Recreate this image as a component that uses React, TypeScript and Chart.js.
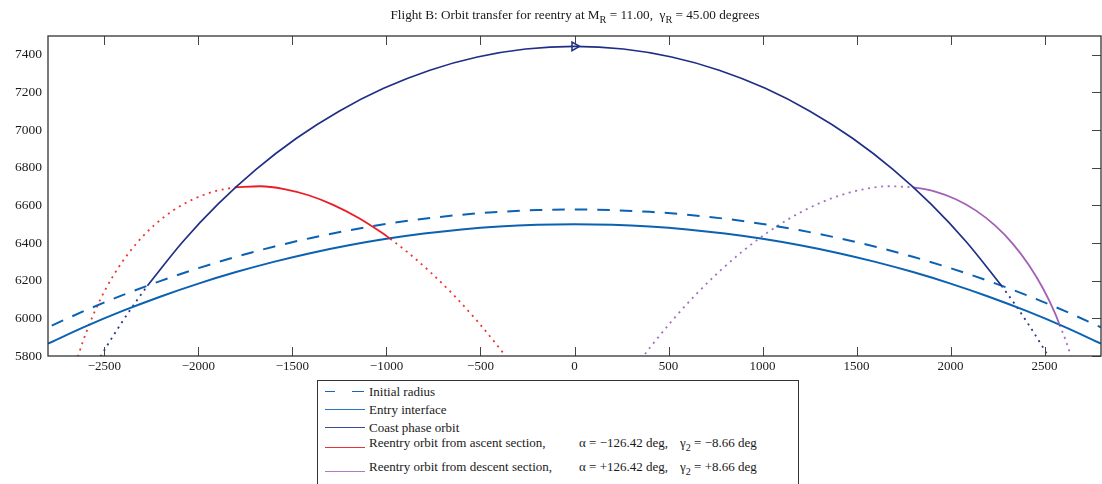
import React, { useEffect, useRef } from 'react';
import { Chart, registerables } from 'chart.js';

Chart.register(...registerables);

// ---------- data (km) ----------
const xTickValues = [-2500, -2000, -1500, -1000, -500, 0, 500, 1000, 1500, 2000, 2500];
const yTickValues = [5800, 6000, 6200, 6400, 6600, 6800, 7000, 7200, 7400];
const xLimits = [-2800, 2800];
const yLimits = [5800, 7500];

const initialRadius = [
  [-2780, 5961.7], [-2600, 6042.4], [-2400, 6124.6], [-2200, 6199.2], [-2000, 6266.6], [-1800, 6326.9],
  [-1600, 6380.5], [-1400, 6427.3], [-1200, 6467.6], [-1000, 6501.5], [-800, 6529.2], [-600, 6550.6],
  [-400, 6565.8], [-200, 6575.0], [0, 6578.0], [200, 6575.0], [400, 6565.8], [600, 6550.6], [800, 6529.2],
  [1000, 6501.5], [1200, 6467.6], [1400, 6427.3], [1600, 6380.5], [1800, 6326.9], [2000, 6266.6],
  [2200, 6199.2], [2400, 6124.6], [2600, 6042.4], [2800, 5952.3],
];

const entryInterface = [
  [-2800, 5866.0], [-2600, 5957.4], [-2400, 6040.7], [-2200, 6116.4], [-2000, 6184.7], [-1800, 6245.8],
  [-1600, 6300.0], [-1400, 6347.4], [-1200, 6388.3], [-1000, 6422.6], [-800, 6450.6], [-600, 6472.3],
  [-400, 6487.7], [-200, 6496.9], [0, 6500.0], [200, 6496.9], [400, 6487.7], [600, 6472.3], [800, 6450.6],
  [1000, 6422.6], [1200, 6388.3], [1400, 6347.4], [1600, 6300.0], [1800, 6245.8], [2000, 6184.7],
  [2200, 6116.4], [2400, 6040.7], [2600, 5957.4], [2800, 5866.0],
];

const coastOrbit = [
  [-2271.2, 6173.2], [-2082.1, 6408.3], [-1894.8, 6607.9], [-1693.3, 6791.4], [-1478.6, 6956.5],
  [-1252.0, 7100.6], [-1015.0, 7221.9], [-769.2, 7318.3], [-516.6, 7388.3], [-259.5, 7430.8], [0, 7445.0],
  [259.5, 7430.8], [516.6, 7388.3], [769.2, 7318.3], [1015.0, 7221.9], [1252.0, 7100.6], [1478.6, 6956.5],
  [1693.3, 6791.4], [1894.8, 6607.9], [2082.1, 6408.3], [2271.2, 6173.2],
];
const coastDottedLeft = [
  [-2520.6, 5796.9], [-2485.4, 5855.3], [-2412.4, 5970.9], [-2335.5, 6084.2], [-2271.2, 6173.2],
];
const coastDottedRight = [
  [2271.2, 6173.2], [2335.5, 6084.2], [2412.4, 5970.9], [2485.4, 5855.3], [2520.6, 5796.9],
];
const coastMarker = [[0, 7445.0]];

const ascentSolid = [
  [-1802.0, 6696.4], [-1670.9, 6701.7], [-1543.8, 6687.0], [-1414.3, 6654.0], [-1283.5, 6603.1],
  [-1152.4, 6535.7], [-1022.0, 6452.8], [-979.9, 6422.7],
];
const ascentDottedLeft = [
  [-2641.3, 5795.7], [-2615.4, 5874.3], [-2557.0, 6024.0], [-2489.7, 6162.3], [-2413.6, 6287.6],
  [-2328.9, 6398.7], [-2236.0, 6493.9], [-2135.5, 6572.3], [-2027.9, 6632.8], [-1914.0, 6674.8],
  [-1802.0, 6696.4],
];
const ascentDottedRight = [
  [-979.9, 6422.7], [-893.2, 6355.6], [-766.9, 6245.7], [-643.7, 6124.6], [-524.4, 5993.7],
  [-409.4, 5854.7], [-353.7, 5782.5],
];

const descentSolid = [
  [1802.0, 6696.4], [1914.0, 6674.8], [2027.9, 6632.8], [2135.5, 6572.3], [2236.0, 6493.9],
  [2328.9, 6398.7], [2413.6, 6287.6], [2489.7, 6162.3], [2557.0, 6024.0], [2579.7, 5965.9],
];
const descentDottedLeft = [
  [353.7, 5782.5], [409.4, 5854.7], [524.4, 5993.7], [643.7, 6124.6], [766.9, 6245.7], [893.2, 6355.6],
  [1022.0, 6452.8], [1152.4, 6535.7], [1283.5, 6603.1], [1414.3, 6654.0], [1543.8, 6687.0],
  [1670.9, 6701.7], [1802.0, 6696.4],
];
const descentDottedRight = [
  [2579.7, 5965.9], [2615.4, 5874.3], [2641.3, 5795.7],
];

// ---------- styles ----------
const BLUE = '#0b61b2';
const NAVY = '#1f2e86';
const RED = '#ec1c24';
const PURPLE = '#a260b6';
const RED_DOT = '#ee3434';
const PURPLE_DOT = '#a56fc0';
const NAVY_DOT = '#27388f';
const FONT = '"Liberation Serif", "Times New Roman", serif';
const DOTS = [2, 4.6];

const toPts = (a: number[][]) => a.map(([x, y]) => ({ x, y }));

const lineSet = (data: number[][], color: string, width: number, dash: number[] = []) => ({
  data: toPts(data),
  borderColor: color,
  backgroundColor: color,
  borderWidth: width,
  borderDash: dash,
  borderCapStyle: 'butt',
  pointRadius: 0,
  pointHoverRadius: 0,
  cubicInterpolationMode: 'monotone',
  fill: false,
  clip: 0,
});

const fmt = (v: number) => (v < 0 ? '\u2212' + Math.abs(v) : String(v));

const framePlugin = {
  id: 'frameTicks',
  afterDatasetsDraw(chart: any) {
    const { ctx, chartArea: a, scales } = chart;
    ctx.save();
    ctx.strokeStyle = '#444';
    ctx.lineWidth = 1;
    ctx.beginPath();
    for (const v of xTickValues) {
      const px = Math.round(scales.x.getPixelForValue(v)) + 0.5;
      ctx.moveTo(px, a.bottom);
      ctx.lineTo(px, a.bottom - 9);
      ctx.moveTo(px, a.top);
      ctx.lineTo(px, a.top + 9);
    }
    for (const v of yTickValues) {
      const py = Math.round(scales.y.getPixelForValue(v)) + 0.5;
      ctx.moveTo(a.right, py);
      ctx.lineTo(a.right - 9, py);
    }
    ctx.stroke();
    ctx.strokeStyle = '#333';
    ctx.lineWidth = 1.3;
    ctx.strokeRect(a.left, a.top, a.right - a.left, a.bottom - a.top);
    ctx.restore();
  },
};

const Sub = ({ children }: { children: React.ReactNode }) => (
  <span style={{ fontSize: '0.78em', position: 'relative', top: '0.38em' }}>{children}</span>
);

const textStyle = (left: number, top: number, size = 13): React.CSSProperties => ({
  position: 'absolute',
  left,
  top,
  fontSize: size,
  lineHeight: '16px',
  whiteSpace: 'pre',
  fontFamily: FONT,
  color: '#1a1a1a',
});

export default function App() {
  const ref = useRef<HTMLCanvasElement | null>(null);

  useEffect(() => {
    if (!ref.current) return;
    const chart = new Chart(ref.current, {
      type: 'line',
      data: {
        datasets: [
          {
            ...lineSet(coastMarker, NAVY, 1.5),
            pointRadius: 5,
            pointStyle: 'triangle',
            rotation: 90,
            pointBorderColor: NAVY,
            pointBackgroundColor: 'rgba(0,0,0,0)',
            pointBorderWidth: 1.5,
            showLine: false,
          },
          lineSet(coastOrbit, NAVY, 1.7),
          lineSet(ascentSolid, RED, 1.8),
          lineSet(descentSolid, PURPLE, 1.8),
          lineSet(entryInterface, BLUE, 2),
          lineSet(initialRadius, BLUE, 2, [12.5, 10]),
          lineSet(coastDottedLeft, NAVY_DOT, 1.8, DOTS),
          lineSet(coastDottedRight, NAVY_DOT, 1.8, DOTS),
          lineSet(ascentDottedLeft, RED_DOT, 1.8, DOTS),
          lineSet(ascentDottedRight, RED_DOT, 1.8, DOTS),
          lineSet(descentDottedLeft, PURPLE_DOT, 1.8, DOTS),
          lineSet(descentDottedRight, PURPLE_DOT, 1.8, DOTS),
        ] as any,
      },
      options: {
        responsive: false,
        animation: false,
        events: [],
        layout: { autoPadding: false, padding: { left: 0, right: 1, top: 36, bottom: 0 } },
        plugins: { legend: { display: false }, tooltip: { enabled: false }, title: { display: false } },
        scales: {
          x: {
            type: 'linear',
            min: xLimits[0],
            max: xLimits[1],
            grid: { display: false, drawTicks: false },
            border: { display: false },
            afterBuildTicks: (axis: any) => {
              axis.ticks = xTickValues.map((v) => ({ value: v }));
            },
            afterFit: (axis: any) => {
              axis.height = 128;
            },
            ticks: {
              autoSkip: false,
              maxRotation: 0,
              padding: 3,
              color: '#1a1a1a',
              font: { family: FONT, size: 13 },
              callback: (v: any) => fmt(Number(v)),
            },
          },
          y: {
            type: 'linear',
            min: yLimits[0],
            max: yLimits[1],
            grid: { display: false, drawTicks: false },
            border: { display: false },
            afterBuildTicks: (axis: any) => {
              axis.ticks = yTickValues.map((v) => ({ value: v }));
            },
            afterFit: (axis: any) => {
              axis.width = 48;
            },
            ticks: {
              autoSkip: false,
              padding: 6,
              color: '#1a1a1a',
              font: { family: FONT, size: 13.5 },
              callback: (v: any) => fmt(Number(v)),
            },
          },
        },
      } as any,
      plugins: [framePlugin],
    });
    return () => chart.destroy();
  }, []);

  const rows = [
    { label: 'Initial radius', top: 383.7, lineY: 391.5, color: '#1f64ad', dashed: true },
    { label: 'Entry interface', top: 402, lineY: 409.5, color: '#2f74bd', dashed: false },
    { label: 'Coast phase orbit', top: 419.7, lineY: 427.5, color: '#3a4a98', dashed: false },
    { label: 'Reentry orbit from ascent section,', top: 434.7, lineY: 447.5, color: '#e8323a', dashed: false },
    { label: 'Reentry orbit from descent section,', top: 458.7, lineY: 471.5, color: '#b07ac4', dashed: false },
  ];

  return (
    <div
      style={{
        position: 'fixed',
        left: 0,
        top: 0,
        width: 1102,
        height: 484,
        overflow: 'hidden',
        background: '#ffffff',
        fontFamily: FONT,
      }}
    >
      <canvas ref={ref} width={1102} height={484} style={{ position: 'absolute', left: 0, top: 0, display: 'block' }} />
      <div style={{ ...textStyle(575, 7, 13.2), transform: 'translateX(-50%)' }}>
        Flight B: Orbit transfer for reentry at M<Sub>R</Sub> = 11.00,  γ<Sub>R</Sub> = 45.00 degrees
      </div>
      <div
        style={{
          position: 'absolute',
          left: 317,
          top: 380,
          width: 482,
          height: 120,
          border: '1px solid #333',
          background: '#ffffff',
          boxSizing: 'border-box',
        }}
      />
      <svg width={1102} height={484} style={{ position: 'absolute', left: 0, top: 0 }} shapeRendering="crispEdges">
        {rows.map((r, i) =>
          r.dashed ? (
            <g key={i}>
              <line x1={325} x2={335} y1={r.lineY} y2={r.lineY} stroke={r.color} strokeWidth={1} />
              <line x1={352} x2={364} y1={r.lineY} y2={r.lineY} stroke={r.color} strokeWidth={1} />
            </g>
          ) : (
            <line key={i} x1={325} x2={365} y1={r.lineY} y2={r.lineY} stroke={r.color} strokeWidth={1} />
          )
        )}
      </svg>
      {rows.map((r, i) => (
        <div key={i} style={textStyle(369, r.top)}>
          {r.label}
        </div>
      ))}
      <div style={textStyle(579, 434.7)}>α = −126.42 deg,</div>
      <div style={textStyle(680, 434.7)}>
        γ<Sub>2</Sub> = −8.66 deg
      </div>
      <div style={textStyle(579, 458.7)}>α = +126.42 deg,</div>
      <div style={textStyle(680, 458.7)}>
        γ<Sub>2</Sub> = +8.66 deg
      </div>
    </div>
  );
}
